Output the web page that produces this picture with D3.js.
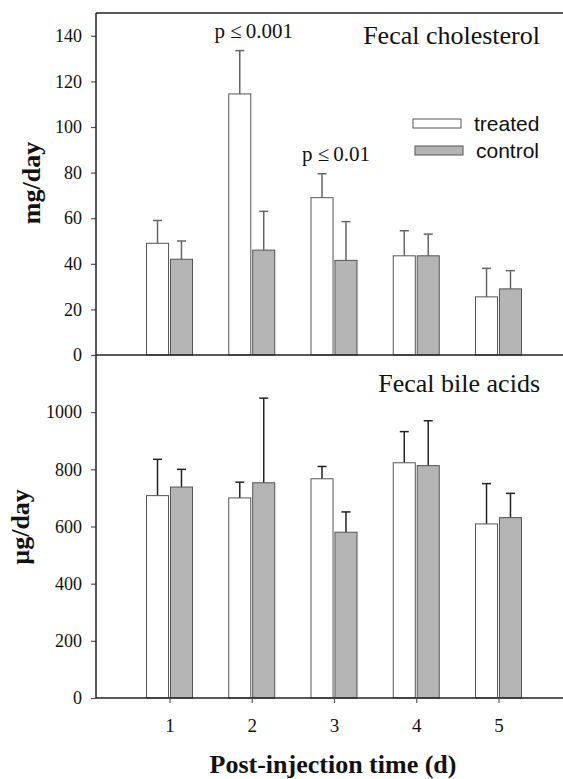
<!DOCTYPE html>
<html>
<head>
<meta charset="utf-8">
<script src="https://cdn.jsdelivr.net/npm/d3@7"></script>
<style>
    body { margin: 0; background: #fff; }
    svg { display: block; }
</style>
</head>
<body>
<svg width="563" height="779"></svg>
<script>
// values
var days = [1, 2, 3, 4, 5];
var cholTreated = [49, 114.5, 69, 43.5, 25.5];
var cholTreatedErr = [10, 19, 10.5, 11, 12.5];
var cholControl = [42, 46, 41.5, 43.5, 29];
var cholControlErr = [8, 17, 17, 9.5, 8];
var bileTreated = [708, 700, 767, 823, 609];
var bileTreatedErr = [127, 55, 43, 109, 141];
var bileControl = [738, 753, 580, 813, 631];
var bileControlErr = [62, 296, 71, 157, 85];
var cholTicks = [0, 20, 40, 60, 80, 100, 120, 140];
var bileTicks = [0, 200, 400, 600, 800, 1000];
var groups = ['treated', 'control'];
var cholNotes = [{ day: 2, label: 'p \u2264\u20090.001' }, { day: 3, label: 'p \u2264\u20090.01' }];

var serif = "'Liberation Serif', 'Times New Roman', serif";
var sans = "'Liberation Sans', Arial, sans-serif";
var svg = d3.select('svg');
var left = 96;
var right = 563;

var x = d3.scaleLinear().domain([1, 5]).range([169.5, 498.5]);
var inner = d3.scaleBand().domain(groups).range([-23, 23]).paddingInner(0.08);
var fills = { treated: '#ffffff', control: '#b4b4b4' };

function styleAxis(g, size) {
    g.select('.domain').remove();
    g.selectAll('.tick line').attr('stroke', '#555').attr('stroke-width', 1.2);
    g.selectAll('.tick text')
        .style('font-family', serif)
        .style('font-size', size + 'px')
        .attr('fill', '#111');
}

function drawPanel(opts) {
    var y = d3.scaleLinear().domain(opts.domain).range(opts.range);
    var g = svg.append('g');

    var rows = [];
    days.forEach(function(d, i) {
        rows.push({ day: d, group: 'treated', v: opts.treated[i], e: opts.treatedErr[i] });
        rows.push({ day: d, group: 'control', v: opts.control[i], e: opts.controlErr[i] });
    });

    function mid(d) { return x(d.day) + inner(d.group) + inner.bandwidth() / 2; }

    // error bars first, bars on top hide the lower half
    var err = g.selectAll('.err').data(rows).enter().append('g').attr('class', 'err')
        .attr('stroke', opts.errColor).attr('stroke-width', 1.5);
    err.append('line')
        .attr('x1', mid).attr('x2', mid)
        .attr('y1', function(d) { return y(d.v); })
        .attr('y2', function(d) { return y(d.v + d.e); });
    err.append('line')
        .attr('x1', function(d) { return mid(d) - 4.5; })
        .attr('x2', function(d) { return mid(d) + 4.5; })
        .attr('y1', function(d) { return y(d.v + d.e); })
        .attr('y2', function(d) { return y(d.v + d.e); });

    g.selectAll('.bar').data(rows).enter().append('rect').attr('class', 'bar')
        .attr('x', function(d) { return x(d.day) + inner(d.group); })
        .attr('width', inner.bandwidth())
        .attr('y', function(d) { return y(d.v); })
        .attr('height', function(d) { return y(0) - y(d.v); })
        .attr('fill', function(d) { return fills[d.group]; })
        .attr('stroke', '#555')
        .attr('stroke-width', 1);

    g.append('g')
        .attr('transform', 'translate(' + left + ',0)')
        .call(d3.axisLeft(y).tickValues(opts.ticks).tickSize(5).tickPadding(9).tickFormat(d3.format('d')))
        .call(styleAxis, 18);

    g.append('text')
        .attr('x', 540).attr('y', opts.titleY)
        .attr('text-anchor', 'end')
        .attr('font-family', serif).attr('font-size', 26).attr('fill', '#111')
        .text(opts.title);

    g.append('text')
        .attr('transform', 'translate(' + opts.labelX + ',' + opts.labelY + ') rotate(-90)')
        .attr('text-anchor', 'middle')
        .attr('font-family', serif).attr('font-size', 26).attr('font-weight', 'bold').attr('fill', '#111')
        .text(opts.label);

    return y;
}

var yChol = drawPanel({
    domain: [0, 150], range: [355, 13],
    treated: cholTreated, treatedErr: cholTreatedErr,
    control: cholControl, controlErr: cholControlErr,
    ticks: cholTicks, errColor: '#666',
    title: 'Fecal cholesterol', titleY: 44,
    label: 'mg/day', labelX: 40, labelY: 183
});

var yBile = drawPanel({
    domain: [0, 1200], range: [698, 355],
    treated: bileTreated, treatedErr: bileTreatedErr,
    control: bileControl, controlErr: bileControlErr,
    ticks: bileTicks, errColor: '#222',
    title: 'Fecal bile acids', titleY: 392,
    label: '\u00b5g/day', labelX: 29, labelY: 527
});

// p-value notes over the treated error bars
svg.selectAll('.note').data(cholNotes).enter().append('text').attr('class', 'note')
    .attr('x', function(d) { return x(d.day) + 2; })
    .attr('y', function(d) {
        var i = days.indexOf(d.day);
        return yChol(cholTreated[i] + cholTreatedErr[i]) - 13;
    })
    .attr('text-anchor', 'middle')
    .attr('font-family', serif).attr('font-size', 21).attr('fill', '#111')
    .text(function(d) { return d.label; });

// frame lines
var frame = svg.append('g').attr('stroke', '#222').attr('stroke-width', 1.5);
frame.append('line').attr('x1', left).attr('x2', right).attr('y1', yChol(150)).attr('y2', yChol(150));
frame.append('line').attr('x1', left).attr('x2', right).attr('y1', yChol(0)).attr('y2', yChol(0));
frame.append('line').attr('x1', left).attr('x2', right).attr('y1', yBile(0)).attr('y2', yBile(0));
frame.append('line').attr('x1', left).attr('x2', left).attr('y1', yChol(150)).attr('y2', yBile(0));

svg.append('g')
    .attr('transform', 'translate(0,' + yBile(0) + ')')
    .call(d3.axisBottom(x).tickValues(days).tickSize(5).tickPadding(16).tickFormat(d3.format('d')))
    .call(styleAxis, 19);

svg.append('text')
    .attr('x', 333).attr('y', 773)
    .attr('text-anchor', 'middle')
    .attr('font-family', serif).attr('font-size', 26).attr('font-weight', 'bold').attr('fill', '#111')
    .text('Post-injection time (d)');

// legend
var legend = svg.append('g');
var legendRows = legend.selectAll('g').data(groups).enter().append('g')
    .attr('transform', function(d, i) { return 'translate(' + (413 + i * 2) + ',' + (119 + i * 27) + ')'; });
legendRows.append('rect')
    .attr('width', 48).attr('height', 9)
    .attr('fill', function(d) { return fills[d]; })
    .attr('stroke', '#555').attr('stroke-width', 1);
legendRows.append('text')
    .attr('x', 61).attr('y', 12)
    .attr('font-family', sans).attr('font-size', 21).attr('fill', '#111')
    .text(function(d) { return d; });
</script>
</body>
</html>
